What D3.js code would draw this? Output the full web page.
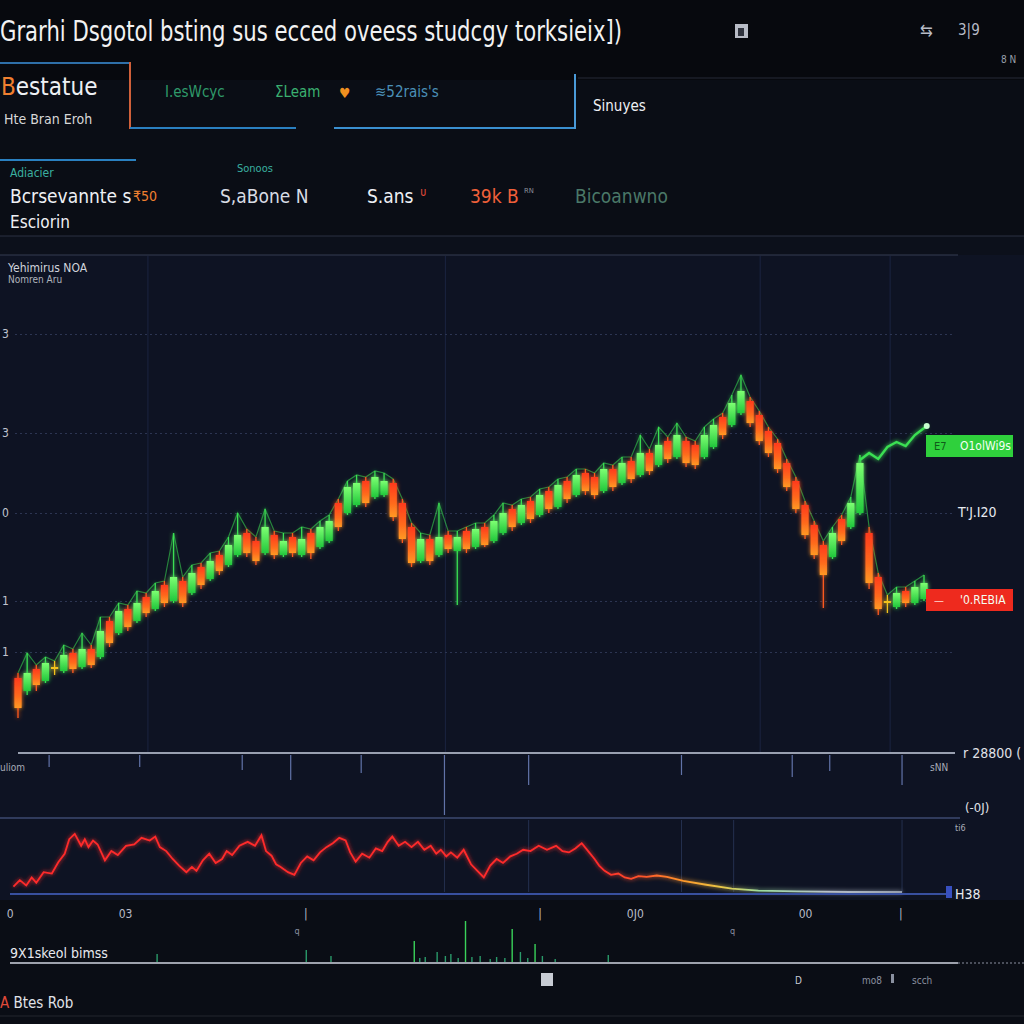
<!DOCTYPE html>
<html>
<head>
<meta charset="utf-8">
<script src="https://cdn.jsdelivr.net/npm/d3@7"></script>
<style>
  html, body { margin: 0; padding: 0; background: #0a0d15; }
  svg { display: block; }
  text { font-family: "Liberation Sans Narrow", "DejaVu Sans Condensed", "Roboto", sans-serif; }
</style>
</head>
<body>
<svg id="chart" width="1024" height="1024"></svg>
<script>
// ---- header texts ----
var titleText = "Grarhi Dsgotol bsting sus ecced oveess studcgy torksieix])";
var tabLabels = ["I.esWcyc", "\u03A3Leam", "\u224B52rais's"];
var tabColors = ["#2f9a6a", "#3ab070", "#4a90b8"];
var statLabels = ["Bcrsevannte s", "S,aBone N", "S.ans", "39k B", "Bicoanwno"];
var statColors = ["#eef0f4", "#d8dce4", "#eef0f4", "#f0603a", "#4a7868"];

// ---- main price candles (open, close, high, low) ----
var opens = [75,62,84,72,86,82,100,86,104,96, 132,120,144,132,156,144,168,152,172,160,
  186,174,198,188,198,220,212,200,218,198, 216,198,220,206,212,250,240,248,272,256,
  258,270,250,226,192,214,198,218,202,222, 206,226,212,220,244,230,252,238,262,246,
  272,258,280,276,262,284,270,292,278,300, 288,312,296,312,308,296,306,336,328,340,
  352,338,322,310,290,272,248,228,208,196, 234,226,240,220,176,150,146,162,150,154];
var closes = [45,80,68,90,84,98,84,104,88,122, 110,142,126,150,140,162,150,176,150,180,
  168,192,182,208,218,200,192,226,198,212, 200,214,200,226,232,226,266,270,250,276,
  272,236,214,190,214,192,216,204,216,204, 224,208,232,240,226,248,234,258,244,268,
  254,278,262,258,284,266,290,274,300,282, 308,294,318,290,288,318,328,318,350,362,
  330,312,300,284,266,244,218,198,178,220, 212,250,290,170,144,152,160,150,166,170];
var highs = [80,100,88,96,92,108,104,120,108,136, 136,150,148,162,160,170,172,220,176,188,
  190,200,202,216,240,224,216,244,222,220, 220,226,224,232,238,254,272,278,276,282,
  280,274,254,230,220,218,250,222,222,226, 230,230,238,250,248,254,256,264,266,274,
  276,284,284,280,290,288,296,296,318,304, 326,316,330,316,312,326,334,340,358,378,
  356,342,326,314,294,276,252,232,212,226, 238,256,298,226,180,158,166,166,172,178];
var lows = [35,58,62,70,78,80,80,84,85,94, 106,118,122,130,136,142,146,150,146,158,
  164,172,178,186,196,196,188,198,194,196, 196,196,194,204,210,222,238,246,246,254,
  256,232,210,186,190,188,196,200,148,200, 204,206,210,218,222,228,230,236,240,244,
  250,256,258,254,260,262,268,270,276,278, 286,290,294,286,284,294,304,314,326,338,
  326,308,296,280,262,240,214,194,145,194, 208,224,238,164,138,140,144,146,148,152];

// upper branch at the end of the session
var trendIdx = [92, 93, 94, 95, 96, 97, 98, 99.3];
var trendVals = [293, 300, 294, 306, 311, 307, 318, 327];

// price axis
var yTickVals = [419, 320, 240, 152, 101];
var yTickLabels = ["3", "3", "0", "1", "1"];
var vGridIdx = [14.2, 46.7, 81.1, 95.3];

// right price tags
var tagVals = [307, 153];
var tagSmall = ["E7", "\u2014"];
var tagTexts = ["O1olWi9s", "'0.REBIA"];
var tagColors = ["#2fd03c", "#ee2a1e"];

// hanging marks under the price panel
var markIdx = [3.4, 13.3, 24.5, 29.8, 37.5, 46.6, 55.8, 72.5, 84.6, 88.7, 96.6];
var markVals = [12, 12, 15, 25, 18, 60, 30, 20, 22, 16, 30];

// indicator (lower panel): [session index, value]
var indicatorPoints = [
  [-0.5,8],[0.2,18],[0.9,10],[1.5,22],[2,14],[2.8,30],[3.7,28],[4.4,45],[5.1,58],[5.6,80],
  [6.2,88],[6.9,70],[7.3,80],[7.7,68],[8.2,78],[8.7,72],[9.1,60],[9.5,48],[10.2,62],[10.9,56],
  [11.8,70],[12.7,72],[13.5,82],[14.4,78],[15,84],[15.5,68],[16.2,62],[16.9,50],[17.6,40],[18.4,30],
  [19,38],[19.5,32],[20.2,48],[20.9,58],[21.6,44],[22.3,50],[22.8,62],[23.4,56],[24.2,70],[25.1,76],
  [25.9,70],[26.6,86],[27.1,62],[27.7,55],[28.2,42],[28.7,38],[29.5,30],[30.2,26],[30.9,44],[31.6,54],
  [32.3,48],[33,60],[33.7,68],[34.4,74],[35.1,82],[35.8,78],[36.3,60],[36.9,46],[37.6,58],[38.4,52],
  [39.1,66],[39.8,62],[40.4,76],[40.9,84],[41.6,70],[42.3,76],[43,68],[43.7,76],[44.4,64],[45.1,70],
  [45.7,58],[46.2,64],[46.8,54],[47.3,60],[48,52],[48.7,64],[49.5,42],[50.2,32],[50.9,22],[51.6,40],
  [52.3,50],[53,44],[53.8,54],[54.5,58],[55.2,64],[56,62],[56.9,70],[57.8,64],[58.8,70],[59.5,62],
  [60.2,60],[60.9,66],[61.6,74],[62.3,62],[63,50],[63.5,40],[64.1,32],[64.8,26],[65.6,28],[66.3,22],
  [67,20],[67.8,24],[68.7,23],[69.8,25],[70.9,23],[72.7,17],[75.2,11],[78,5],[80.9,2],[85.1,1],
  [90.9,0],[96.6,0]];
var indGridIdx = [46.6, 55.8, 72.5, 78.2, 96.6];

// x labels
var xLabelIdx = [-0.9, 11.7, 31.4, 57, 67.4, 86, 96.4];
var xLabels = ["0", "03", "|", "|", "0J0", "00", "|"];
var minorIdx = [30.2, 77.8];
var minorLabels = ["q", "q"];

// volume spikes
var volIdx = [15.2,31.5,34.2,43.3,43.9,44.5,45.8,46.7,47.3,48.1,48.9,49.6,50.5,51.6,52.3,53.2,54,54.9,55.7,56.5,57.3,58.7,64.5];
var volVals = [8,12,6,21,4,5,10,6,8,4,41,5,6,3,5,4,33,10,4,18,6,3,7];

var svg = d3.select("#chart");
var W = 1024, H = 1024;

// ---- backgrounds ----
svg.append("rect").attr("width", W).attr("height", H).attr("fill", "#0a0d15");
svg.append("rect").attr("width", W).attr("height", 80).attr("fill", "#07090e");
svg.append("rect").attr("y", 236).attr("width", W).attr("height", 19).attr("fill", "#0c101b");
svg.append("rect").attr("y", 255).attr("width", W).attr("height", 645).attr("fill", "#0e1323");

var defs = svg.append("defs");
var glow = defs.append("filter").attr("id", "glow")
  .attr("x", "-50%").attr("y", "-50%").attr("width", "200%").attr("height", "200%");
glow.append("feGaussianBlur").attr("stdDeviation", 2).attr("result", "b");
var merge = glow.append("feMerge");
merge.append("feMergeNode").attr("in", "b");
merge.append("feMergeNode").attr("in", "SourceGraphic");

var upGrad = defs.append("linearGradient").attr("id", "upGrad").attr("x1", 0).attr("x2", 0).attr("y1", 0).attr("y2", 1);
upGrad.append("stop").attr("offset", 0).attr("stop-color", "#7dff72");
upGrad.append("stop").attr("offset", 1).attr("stop-color", "#22c83c");
var dnGrad = defs.append("linearGradient").attr("id", "dnGrad").attr("x1", 0).attr("x2", 0).attr("y1", 0).attr("y2", 1);
dnGrad.append("stop").attr("offset", 0).attr("stop-color", "#ff3a1a");
dnGrad.append("stop").attr("offset", 0.6).attr("stop-color", "#ff6a1e");
dnGrad.append("stop").attr("offset", 1).attr("stop-color", "#ff9a24");

var indGrad = defs.append("linearGradient").attr("id", "indGrad")
  .attr("gradientUnits", "userSpaceOnUse").attr("x1", 10).attr("x2", 960).attr("y1", 0).attr("y2", 0);
[[0, "#ff2a2a"], [0.62, "#ff2a2a"], [0.67, "#ff5a2a"], [0.71, "#ff9a2a"], [0.75, "#e8c848"],
 [0.79, "#9adca0"], [0.86, "#b8c0cc"], [1, "#7a8292"]].forEach(function(s) {
  indGrad.append("stop").attr("offset", s[0]).attr("stop-color", s[1]);
});

// ---- header ----
svg.append("text").text(titleText)
  .attr("x", 0).attr("y", 41)
  .attr("font-size", 28).attr("fill", "#f2f2f2")
  .attr("textLength", 622).attr("lengthAdjust", "spacingAndGlyphs");

svg.append("rect").attr("x", 735).attr("y", 24).attr("width", 13).attr("height", 14).attr("fill", "#b8bcc6");
svg.append("rect").attr("x", 738).attr("y", 28).attr("width", 6).attr("height", 8).attr("fill", "#30343e");
svg.append("text").text("\u21C6").attr("x", 920).attr("y", 36).attr("font-size", 17).attr("fill", "#b8bcc6");
svg.append("text").text("3|9").attr("x", 958).attr("y", 35).attr("font-size", 15).attr("fill", "#b8bcc6");
svg.append("text").text("8 N").attr("x", 1001).attr("y", 63).attr("font-size", 10).attr("fill", "#9aa0ac");

svg.append("line").attr("x1", 578).attr("x2", W).attr("y1", 78).attr("y2", 78).attr("stroke", "#262b36");
svg.append("line").attr("x1", 0).attr("x2", 131).attr("y1", 63).attr("y2", 63).attr("stroke", "#2e6fa8").attr("stroke-width", 2);
svg.append("line").attr("x1", 130).attr("x2", 130).attr("y1", 62).attr("y2", 129).attr("stroke", "#d0603a").attr("stroke-width", 2);
svg.append("line").attr("x1", 130).attr("x2", 296).attr("y1", 128).attr("y2", 128).attr("stroke", "#2a7fc0").attr("stroke-width", 2);
svg.append("line").attr("x1", 334).attr("x2", 576).attr("y1", 128).attr("y2", 128).attr("stroke", "#3a8fd0").attr("stroke-width", 2);
svg.append("line").attr("x1", 575).attr("x2", 575).attr("y1", 74).attr("y2", 129).attr("stroke", "#4a9ad8").attr("stroke-width", 2);

var best = svg.append("text").attr("x", 1).attr("y", 95).attr("font-size", 24).attr("fill", "#eef0f4");
best.append("tspan").text("B").attr("fill", "#f08030");
best.append("tspan").text("estatue");
svg.append("text").text("Hte Bran Eroh").attr("x", 4).attr("y", 124).attr("font-size", 14).attr("fill", "#d8d8d8");

var tabX = [165, 275, 375];
tabLabels.forEach(function(t, i) {
  svg.append("text").text(t).attr("x", tabX[i]).attr("y", 97)
    .attr("font-size", 15).attr("fill", tabColors[i]);
});
svg.append("text").text("\u2665").attr("x", 339).attr("y", 98).attr("font-size", 14).attr("fill", "#f09020");
svg.append("text").text("Sinuyes").attr("x", 593).attr("y", 111).attr("font-size", 15).attr("fill", "#eef0f4");

// second row of stats
svg.append("line").attr("x1", 0).attr("x2", 136).attr("y1", 160).attr("y2", 160).attr("stroke", "#2a80c0").attr("stroke-width", 2);
svg.append("text").text("Adiacier").attr("x", 10).attr("y", 177).attr("font-size", 12).attr("fill", "#3ab0a0");
svg.append("text").text("Sonoos").attr("x", 237).attr("y", 172).attr("font-size", 11).attr("fill", "#3ab0a0");
var statX = [10, 220, 367, 470, 575];
statLabels.forEach(function(t, i) {
  svg.append("text").text(t).attr("x", statX[i]).attr("y", 203)
    .attr("font-size", 19).attr("fill", statColors[i]);
});
svg.append("text").text("\u20B950").attr("x", 133).attr("y", 201).attr("font-size", 14).attr("fill", "#f08030");
svg.append("text").text("\u1D1C").attr("x", 420).attr("y", 196).attr("font-size", 12).attr("fill", "#e04a3a");
svg.append("text").text("\u1D3F\u1D3A").attr("x", 524).attr("y", 197).attr("font-size", 12).attr("fill", "#8a909c");
svg.append("text").text("Esciorin").attr("x", 10).attr("y", 228).attr("font-size", 17).attr("fill", "#eef0f4");
svg.append("line").attr("x1", 0).attr("x2", W).attr("y1", 236).attr("y2", 236).attr("stroke", "#2a3042");

// ---- price panel ----
var x = d3.scaleLinear().domain([0, opens.length - 1]).range([18, 924]);
var y = d3.scaleLinear().domain([0, 498]).range([753, 255]);

svg.append("line").attr("x1", 0).attr("x2", 958).attr("y1", 255).attr("y2", 255).attr("stroke", "#353d52");
svg.append("text").text("Yehimirus NOA").attr("x", 8).attr("y", 272).attr("font-size", 12).attr("fill", "#d0d4dc");
svg.append("text").text("Nomren Aru").attr("x", 8).attr("y", 283).attr("font-size", 10).attr("fill", "#b0b4bc");

svg.append("g").selectAll("line").data(vGridIdx).enter().append("line")
  .attr("x1", function(d) { return x(d); }).attr("x2", function(d) { return x(d); })
  .attr("y1", 256).attr("y2", 752)
  .attr("stroke", "#1b2440").attr("stroke-width", 1);

var yAxis = svg.append("g")
  .attr("transform", "translate(15,0)")
  .call(d3.axisRight(y).tickValues(yTickVals).tickSize(940)
    .tickFormat(function(d, i) { return yTickLabels[i]; }));
yAxis.select(".domain").remove();
yAxis.selectAll(".tick line").attr("stroke", "#2c3552").attr("stroke-dasharray", "2,3");
yAxis.selectAll(".tick text").attr("x", -13).attr("text-anchor", "start")
  .attr("font-size", 12).attr("fill", "#c0c4d0");

// high line traced across the candles
var highLine = d3.line()
  .x(function(d, i) { return x(i); })
  .y(function(d) { return y(d); });
svg.append("path").datum(highs)
  .attr("d", highLine)
  .attr("fill", "none").attr("stroke", "#3be052").attr("stroke-width", 1.2).attr("opacity", 0.55);

var candles = svg.append("g").attr("filter", "url(#glow)")
  .selectAll("g").data(opens).enter().append("g");

function candleColor(i) {
  var d = closes[i] - opens[i];
  if (Math.abs(d) < 4) return "#f2c21b";
  return d > 0 ? "url(#upGrad)" : "url(#dnGrad)";
}
function wickColor(i) {
  var d = closes[i] - opens[i];
  if (Math.abs(d) < 4) return "#f2c21b";
  return d > 0 ? "#3be052" : "#ff5a1e";
}

candles.append("line")
  .attr("x1", function(d, i) { return x(i); }).attr("x2", function(d, i) { return x(i); })
  .attr("y1", function(d, i) { return y(highs[i]); })
  .attr("y2", function(d, i) { return y(lows[i]); })
  .attr("stroke", function(d, i) { return wickColor(i); })
  .attr("stroke-width", 1.3);

candles.append("rect")
  .attr("x", function(d, i) { return x(i) - 3.6; })
  .attr("width", 7.2)
  .attr("y", function(d, i) { return y(Math.max(opens[i], closes[i])); })
  .attr("height", function(d, i) { return Math.max(2, Math.abs(y(opens[i]) - y(closes[i]))); })
  .attr("fill", function(d, i) { return candleColor(i); });

// upper branch
var trendLine = d3.line()
  .x(function(d, i) { return x(trendIdx[i]); })
  .y(function(d) { return y(d); });
svg.append("path").datum(trendVals)
  .attr("d", trendLine)
  .attr("fill", "none").attr("stroke", "#3be052").attr("stroke-width", 2.4)
  .attr("filter", "url(#glow)");
svg.append("circle")
  .attr("cx", x(trendIdx[trendIdx.length - 1])).attr("cy", y(trendVals[trendVals.length - 1]))
  .attr("r", 3).attr("fill", "#c8ffd0");

// price tags
var tags = svg.append("g").selectAll("g").data(tagVals).enter().append("g")
  .attr("transform", function(d) { return "translate(926," + y(d) + ")"; });
tags.append("rect").attr("x", 0).attr("y", -11).attr("width", 87).attr("height", 22)
  .attr("fill", function(d, i) { return tagColors[i]; });
tags.append("text").text(function(d, i) { return tagSmall[i]; })
  .attr("x", 8).attr("y", 4).attr("font-size", 11)
  .attr("fill", function(d, i) { return i === 0 ? "#0f5a1a" : "#ffd8d0"; });
tags.append("text").text(function(d, i) { return tagTexts[i]; })
  .attr("x", 34).attr("y", 4).attr("font-size", 12).attr("fill", "#f4fff4");
svg.append("text").text("T'J.I20").attr("x", 958).attr("y", 517).attr("font-size", 14).attr("fill", "#e8eaf0");

svg.append("line").attr("x1", 18).attr("x2", 955).attr("y1", 753).attr("y2", 753)
  .attr("stroke", "#c8d0e0").attr("stroke-width", 1.5);
svg.append("text").text("r 28800 (").attr("x", 963).attr("y", 758).attr("font-size", 14).attr("fill", "#e0e2e8");
svg.append("text").text("uliom").attr("x", 0).attr("y", 771).attr("font-size", 10).attr("fill", "#a8acb8");
svg.append("text").text("sNN").attr("x", 930).attr("y", 771).attr("font-size", 10).attr("fill", "#a8acb8");

// hanging marks
var ym = d3.scaleLinear().domain([0, 60]).range([755, 815]);
svg.append("g").selectAll("line").data(markVals).enter().append("line")
  .attr("x1", function(d, i) { return x(markIdx[i]); }).attr("x2", function(d, i) { return x(markIdx[i]); })
  .attr("y1", ym(0)).attr("y2", function(d) { return ym(d); })
  .attr("stroke", "#7084c0").attr("stroke-width", 1.2).attr("opacity", 0.85);

svg.append("line").attr("x1", 0).attr("x2", 960).attr("y1", 818).attr("y2", 818)
  .attr("stroke", "#3d4a70").attr("stroke-width", 1.5);
svg.append("text").text("(-0J)").attr("x", 965).attr("y", 812).attr("font-size", 13).attr("fill", "#e0e2e8");
svg.append("text").text("ti6").attr("x", 955).attr("y", 831).attr("font-size", 9).attr("fill", "#a8acb8");

// ---- indicator panel ----
var yi = d3.scaleLinear().domain([0, 100]).range([892, 826]);
svg.append("g").selectAll("line").data(indGridIdx).enter().append("line")
  .attr("x1", function(d) { return x(d); }).attr("x2", function(d) { return x(d); })
  .attr("y1", 820).attr("y2", 892)
  .attr("stroke", "#24304e").attr("stroke-width", 1);

var indLine = d3.line()
  .x(function(d) { return x(d[0]); })
  .y(function(d) { return yi(d[1]); });
svg.append("path").datum(indicatorPoints)
  .attr("d", indLine)
  .attr("fill", "none").attr("stroke", "url(#indGrad)").attr("stroke-width", 1.8)
  .attr("filter", "url(#glow)");

svg.append("line").attr("x1", 10).attr("x2", 950).attr("y1", 894).attr("y2", 894)
  .attr("stroke", "#3850a0").attr("stroke-width", 2);
svg.append("rect").attr("x", 946).attr("y", 886).attr("width", 6).attr("height", 12).attr("fill", "#3850c0");
svg.append("text").text("H38").attr("x", 955).attr("y", 899).attr("font-size", 14).attr("fill", "#e8eaf0");

// x labels
var xAxis = svg.append("g")
  .attr("transform", "translate(0,906)")
  .attr("color", "#b8bcc8")
  .call(d3.axisBottom(x).tickValues(xLabelIdx).tickSize(0)
    .tickFormat(function(d, i) { return xLabels[i]; }));
xAxis.select(".domain").remove();
xAxis.selectAll(".tick line").remove();
xAxis.selectAll(".tick text").attr("font-size", 12).attr("fill", "#b8bcc8");

svg.append("g").selectAll("text").data(minorLabels).enter().append("text")
  .text(function(d) { return d; })
  .attr("x", function(d, i) { return x(minorIdx[i]); }).attr("y", 934)
  .attr("font-size", 9).attr("fill", "#8a90a0");

// ---- volume ----
var yv = d3.scaleLinear().domain([0, 50]).range([962, 912]);
svg.append("g").selectAll("line").data(volVals).enter().append("line")
  .attr("x1", function(d, i) { return x(volIdx[i]); }).attr("x2", function(d, i) { return x(volIdx[i]); })
  .attr("y1", yv(0)).attr("y2", function(d) { return yv(d); })
  .attr("stroke", function(d) { return d > 15 ? "#3ad25a" : "#2a9a6a"; })
  .attr("stroke-width", 1.4);
svg.append("line").attr("x1", 10).attr("x2", 958).attr("y1", 963).attr("y2", 963)
  .attr("stroke", "#d0d4e0").attr("stroke-width", 1.5);
svg.append("line").attr("x1", 958).attr("x2", W).attr("y1", 963).attr("y2", 963)
  .attr("stroke", "#8a90a0").attr("stroke-dasharray", "2,2");
svg.append("text").text("9X1skeol bimss").attr("x", 10).attr("y", 958).attr("font-size", 14).attr("fill", "#e8eaf0");

// ---- footer ----
svg.append("rect").attr("x", 541).attr("y", 973).attr("width", 12).attr("height", 13).attr("fill", "#c8ccd4");
svg.append("text").text("D").attr("x", 795).attr("y", 984).attr("font-size", 10).attr("fill", "#c8ccd4");
svg.append("text").text("mo8").attr("x", 862).attr("y", 984).attr("font-size", 10).attr("fill", "#8a90a0");
svg.append("rect").attr("x", 891).attr("y", 974).attr("width", 3).attr("height", 9).attr("fill", "#8a90a0");
svg.append("text").text("scch").attr("x", 912).attr("y", 984).attr("font-size", 10).attr("fill", "#8a90a0");
var foot = svg.append("text").attr("x", 0).attr("y", 1008).attr("font-size", 15).attr("fill", "#e0e2e8");
foot.append("tspan").text("A").attr("fill", "#e04a3a");
foot.append("tspan").text(" Btes Rob");
svg.append("line").attr("x1", 0).attr("x2", W).attr("y1", 1016).attr("y2", 1016).attr("stroke", "#22262e");
</script>
</body>
</html>
